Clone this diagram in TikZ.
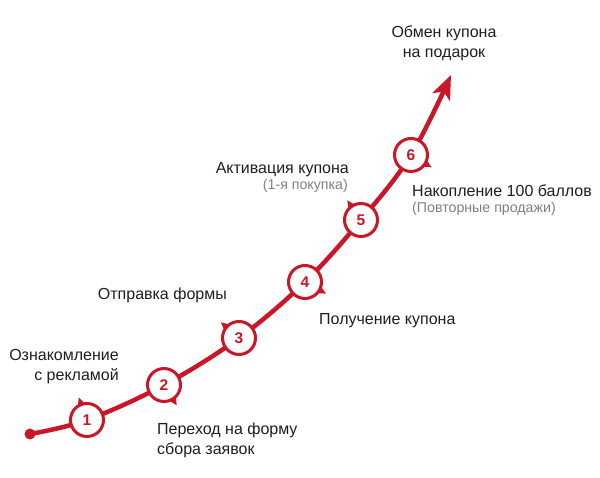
\documentclass[tikz,border=0pt]{standalone}
\usepackage{fontspec}
\setmainfont{Liberation Sans}
\usetikzlibrary{arrows.meta,calc,backgrounds}

\definecolor{stepred}{RGB}{202,22,38}
\definecolor{labeltext}{RGB}{30,30,30}
\definecolor{subtext}{RGB}{128,128,128}

\tikzset{
    stepnode/.style={circle, draw=stepred, line width=3pt, fill=white,
        minimum size=33pt, inner sep=0pt, text=stepred,
        font=\fontsize{15.5}{15.5}\selectfont\bfseries},
    steplabel/.style={inner sep=0pt, text=labeltext,
        font=\fontsize{16}{20}\selectfont},
    stepsub/.style={inner sep=0pt, text=subtext,
        font=\fontsize{14.2}{16}\selectfont},
    track/.style={draw=stepred, line width=4.5pt},
}

\begin{document}
\begin{tikzpicture}[x=1pt,y=1pt]

    \useasboundingbox (0,0) rectangle (600,478);

    \coordinate (start) at (30,44);
    \coordinate (goal) at (451,403);

    \node [stepnode] (c1) at (87,58) {1};
    \node [stepnode] (c2) at (164,93) {2};
    \node [stepnode] (c3) at (239,140) {3};
    \node [stepnode] (c4) at (305,196) {4};
    \node [stepnode] (c5) at (361,258) {5};
    \node [stepnode] (c6) at (411,323) {6};

    % track behind the circles
    \begin{scope}[on background layer]
        \draw [track, -{Stealth[length=24pt,width=19pt,inset=6pt]}]
            plot [smooth, tension=.6] coordinates {(start) (c1.center) (c2.center)
                (c3.center) (c4.center) (c5.center) (c6.center) (goal)};
        \fill [stepred] (start) circle (5.5);
    \end{scope}

    % little tails of the circles
    \foreach \n/\a in {1/110,2/-58,3/139,4/-29,5/125,6/-31}
        \fill [stepred] ($(c\n)+(\a:24)$) -- ($(c\n)+(\a-15:16)$)
            -- ($(c\n)+(\a+15:16)$) -- cycle;

    \node [steplabel, anchor=east, align=right] (t1) at (119,111)
        {Ознакомление\\с рекламой};
    \node [steplabel, anchor=west, align=left] (t2) at (157,38)
        {Переход на форму\\сбора заявок};
    \node [steplabel, anchor=east] (t3) at (227,183) {Отправка формы};
    \node [steplabel, anchor=west] (t4) at (319,157) {Получение купона};
    \node [steplabel, anchor=east] (t5) at (349,308) {Активация купона};
    \node [stepsub, anchor=east] (s5) at (348,292) {(1-я покупка)};
    \node [steplabel, anchor=west] (t6) at (412,287) {Накопление 100 баллов};
    \node [stepsub, anchor=west] (s6) at (412,269) {(Повторные продажи)};
    \node [steplabel, align=center] (t7) at (444,435)
        {Обмен купона\\на подарок};

\end{tikzpicture}
\end{document}
